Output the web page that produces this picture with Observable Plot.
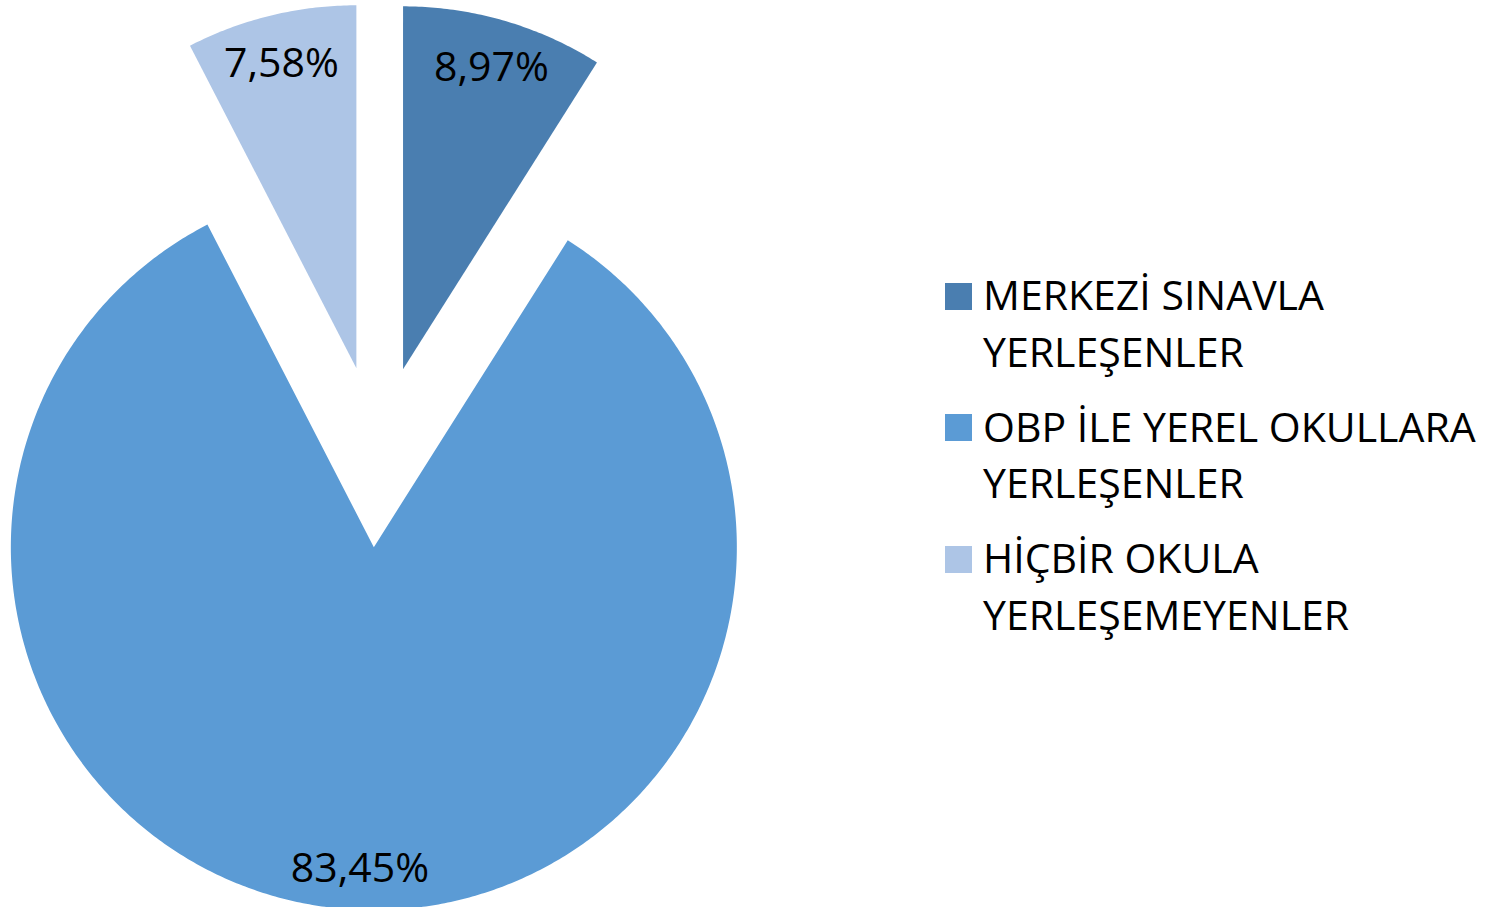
<!DOCTYPE html>
<html><head><meta charset="utf-8">
<script src="https://cdn.jsdelivr.net/npm/d3@7"></script>
<script src="https://cdn.jsdelivr.net/npm/@observablehq/plot@0.6"></script>
<style>
html,body{margin:0;padding:0;background:#fff;}
#wrap{position:relative;width:1502px;height:907px;overflow:hidden;font-family:"Open Sans",sans-serif;}
#chart{position:absolute;left:0;top:0;}
#legend{position:absolute;left:945px;top:266px;display:flex;flex-direction:column;gap:18.3px;}
.item{position:relative;padding-left:38px;font-size:41px;line-height:56.7px;color:#000;white-space:pre;}
.sw{position:absolute;left:0;top:16.6px;width:27px;height:27px;}
</style></head><body>
<div id="wrap"><div id="chart"></div><div id="legend"></div></div>
<script>
const categories = ["MERKEZİ SINAVLA\nYERLEŞENLER", "OBP İLE YEREL OKULLARA\nYERLEŞENLER", "HİÇBİR OKULA\nYERLEŞEMEYENLER"];
const values = [8.97, 83.45, 7.58];
const labels = ["8,97%", "83,45%", "7,58%"];
const colors = ["#4a7eb0", "#5b9bd5", "#adc5e6"];

const W = 1502, H = 907, R = 363, cx = 377.3, cy = 456, explode = 0.25, labelR = 0.875;
const arcs = d3.pie().sort(null).value(d => d)(values);
const rows = [], labelRows = [];
arcs.forEach((a, i) => {
  const mid = (a.startAngle + a.endAngle) / 2;
  const ox = explode * Math.sin(mid), oy = explode * Math.cos(mid);
  rows.push({cat: i, x: ox, y: oy});
  const n = Math.max(8, Math.ceil((a.endAngle - a.startAngle) / (Math.PI / 360)));
  for (let k = 0; k <= n; k++) {
    const t = a.startAngle + (a.endAngle - a.startAngle) * k / n;
    rows.push({cat: i, x: ox + Math.sin(t), y: oy + Math.cos(t)});
  }
  labelRows.push({x: ox + labelR * Math.sin(mid), y: oy + labelR * Math.cos(mid), text: labels[i]});
});

const plot = Plot.plot({
  width: W, height: H, margin: 0,
  x: {domain: [-cx / R, (W - cx) / R], axis: null},
  y: {domain: [-(H - cy) / R, cy / R], axis: null},
  style: {fontFamily: '"Open Sans", sans-serif', background: "transparent"},
  marks: [
    ...categories.map((c, i) => Plot.line(rows.filter(r => r.cat === i), {x: "x", y: "y", fill: colors[i], stroke: "none", curve: "linear-closed"})),
    Plot.text(labelRows, {x: "x", y: "y", text: "text", dy: 4, fontSize: 41, fill: "#000", fontFamily: '"Open Sans", sans-serif'})
  ]
});
document.getElementById("chart").appendChild(plot);

const leg = document.getElementById("legend");
categories.forEach((c, i) => {
  const d = document.createElement("div");
  d.className = "item";
  d.textContent = c;
  const s = document.createElement("span");
  s.className = "sw";
  s.style.background = colors[i];
  d.prepend(s);
  leg.appendChild(d);
});
</script>
</body></html>
